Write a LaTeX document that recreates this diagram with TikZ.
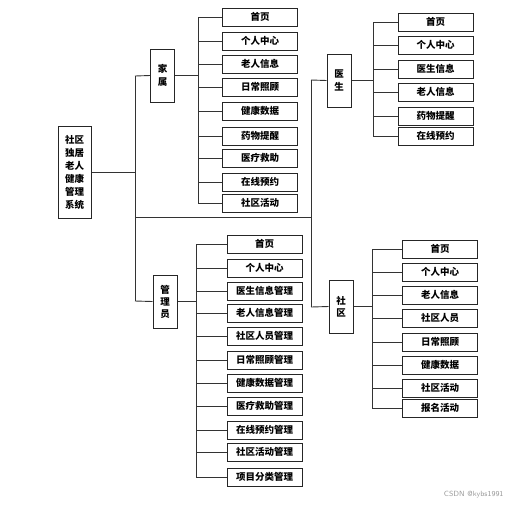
\documentclass[tikz,border=0pt]{standalone}
\usepackage{fontspec}
\newfontfamily\cjk{Noto Sans CJK SC}
\begin{document}
\begin{tikzpicture}[x=1pt,y=-1pt,
  leaf/.style={draw=black!85, line width=1pt, minimum width=75pt, minimum height=18pt, inner sep=0pt, font=\cjk\bfseries\fontsize{9.5}{10}\selectfont},
  grp/.style={draw=black!85, line width=1pt, minimum width=24pt, minimum height=53pt, inner sep=0pt, align=center, font=\cjk\bfseries\fontsize{9.5}{12.5}\selectfont},
  wire/.style={draw=black!80, line width=0.9pt}]
\useasboundingbox (0,0) rectangle (511,507);
\fill[white] (0,0) rectangle (511,507);

% root
\node[grp, minimum width=33pt, minimum height=92pt, font=\cjk\bfseries\fontsize{9.5}{13}\selectfont] (root) at (74.5,172) {社区\\独居\\老人\\健康\\管理\\系统};
\coordinate (t1) at (135,172);
\coordinate (t1top) at (135,76);
\coordinate (t1bot) at (135,301);
\coordinate (mid) at (135,217);
\coordinate (t2) at (311,217);
\coordinate (t2top) at (311,80);
\coordinate (t2bot) at (311,307);

% groups
\node[grp] (jia) at (162.5,75.5) {家\\属};
\node[grp] (yi) at (339,80.5) {医\\生};
\node[grp, font=\cjk\bfseries\fontsize{9.5}{12}\selectfont] (gl) at (165,301.5) {管\\理\\员};
\node[grp] (sq) at (341,306.5) {社\\区};

% trunks
\draw[wire] (root.east) -- (t1);
\draw[wire] (t1top) -- (t1bot);
\draw[wire] (t1top) -- (jia.west);
\draw[wire] (t1bot) -- (gl.west);
\draw[wire] (mid) -- (t2);
\draw[wire] (t2top) -- (t2bot);
\draw[wire] (t2top) -- (yi.west);
\draw[wire] (t2bot) -- (sq.west);

% jia children
\coordinate (jb) at (198,75.5);
\foreach \i/\y/\t in {1/17/首页,2/41/个人中心,3/64/老人信息,4/87/日常照顾,5/111/健康数据,6/136/药物提醒,7/158/医疗救助,8/182/在线预约,9/203/社区活动}{
  \node[leaf] (j\i) at (260,\y) {\t};
  \draw[wire] (jb |- j\i.west) -- (j\i.west);
}
\draw[wire] (jia.east) -- (jb);
\draw[wire] (jb |- j1.west) -- (jb |- j9.west);

% yi children
\coordinate (yb) at (373,80.5);
\foreach \i/\y/\t in {1/22/首页,2/45/个人中心,3/69/医生信息,4/92/老人信息,5/116/药物提醒,6/136/在线预约}{
  \node[leaf] (y\i) at (435.5,\y) {\t};
  \draw[wire] (yb |- y\i.west) -- (y\i.west);
}
\draw[wire] (yi.east) -- (yb);
\draw[wire] (yb |- y1.west) -- (yb |- y6.west);

% gl children
\coordinate (gb) at (196,301.5);
\foreach \i/\y/\t in {1/244/首页,2/268/个人中心,3/291/医生信息管理,4/313/老人信息管理,5/336/社区人员管理,6/360/日常照顾管理,7/383/健康数据管理,8/406/医疗救助管理,9/430/在线预约管理,10/452/社区活动管理,11/477/项目分类管理}{
  \node[leaf] (g\i) at (264.5,\y) {\t};
  \draw[wire] (gb |- g\i.west) -- (g\i.west);
}
\draw[wire] (gl.east) -- (gb);
\draw[wire] (gb |- g1.west) -- (gb |- g11.west);

% sq children
\coordinate (sb) at (372,306.5);
\foreach \i/\y/\t in {1/249/首页,2/272/个人中心,3/295/老人信息,4/318/社区人员,5/342/日常照顾,6/365/健康数据,7/388/社区活动,8/408/报名活动}{
  \node[leaf] (s\i) at (440,\y) {\t};
  \draw[wire] (sb |- s\i.west) -- (s\i.west);
}
\draw[wire] (sq.east) -- (sb);
\draw[wire] (sb |- s1.west) -- (sb |- s8.west);

% watermark
\node[text=black!40, font=\sffamily\fontsize{7.5}{8}\selectfont, anchor=east] (wm) at (507,495) {CSDN @kybs1991};
\end{tikzpicture}
\end{document}
